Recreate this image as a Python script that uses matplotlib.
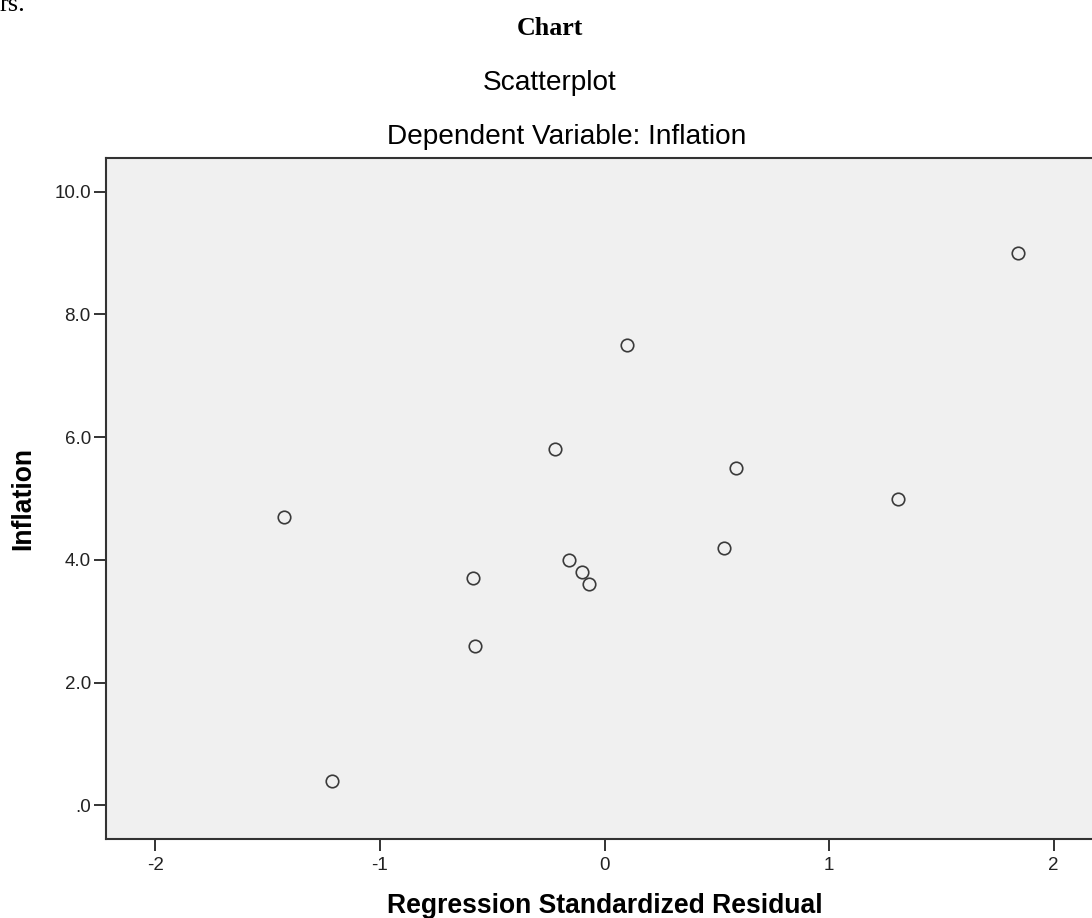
import matplotlib
matplotlib.use("Agg")
import matplotlib.pyplot as plt

# Data
residual = [1.84, 0.10, -0.22, 0.584, 1.308, -1.427, 0.532, -0.159, -0.099, -0.071, -0.584, -0.577, -1.212]
inflation = [9.0, 7.5, 5.8, 5.5, 5.0, 4.7, 4.2, 4.0, 3.8, 3.6, 3.7, 2.6, 0.4]
xticks = [-2, -1, 0, 1, 2]
xtick_labels = ["-2", "-1", "0", "1", "2"]
yticks = [0, 2, 4, 6, 8, 10]
ytick_labels = [".0", "2.0", "4.0", "6.0", "8.0", "10.0"]

W, H = 1092, 918
fig = plt.figure(figsize=(W / 100, H / 100), dpi=100)
fig.patch.set_facecolor("white")

sans = ["Liberation Sans", "DejaVu Sans"]
serif = ["Liberation Serif", "DejaVu Serif"]

def px(x, y):
    return x / W, 1 - y / H

# axes: left 106, top 158, bottom 839, right beyond the image edge (1103)
left, top, bottom, right = 106, 158, 839, 1103
ax = fig.add_axes([left / W, 1 - bottom / H, (right - left) / W, (bottom - top) / H])
ax.set_facecolor("#f0f0f0")

ax.plot(residual, inflation, linestyle="none", marker="o", markersize=9,
        markerfacecolor="none", markeredgecolor="#3a3a3a", markeredgewidth=1.2)

ax.set_xlim(-2.22, 2.22)
ax.set_ylim(-0.55, 10.55)
ax.set_xticks(xticks)
ax.set_xticklabels(xtick_labels, family=sans, fontsize=13.5, color="#222222")
ax.set_yticks(yticks)
ax.set_yticklabels(ytick_labels, family=sans, fontsize=13.5, color="#222222")
ax.tick_params(axis="both", direction="out", length=8.5, width=1.4, color="#333333")
ax.tick_params(axis="y", pad=2.4)
ax.tick_params(axis="x", pad=4.5)
for s in ax.spines.values():
    s.set_color("#333333")
    s.set_linewidth(1.5)

# Texts
fig.text(*px(0, 11), "rs.", family=serif, fontsize=19, ha="left", va="baseline")
fig.text(*px(549.5, 35), "Chart", family=serif, fontsize=18.7, fontweight="bold",
         ha="center", va="baseline")
fig.text(*px(550, 90), "Scatterplot", family=sans, fontsize=20.2,
         ha="center", va="baseline")
fig.text(*px(566.5, 144), "Dependent Variable: Inflation", family=sans, fontsize=20.2,
         ha="center", va="baseline")
fig.text(*px(604.5, 913), "Regression Standardized Residual", family=sans, fontsize=19.1,
         fontweight="bold", ha="center", va="baseline")
fig.text(*px(23, 499), "Inflation", family=sans, fontsize=19.1, fontweight="bold",
         rotation=90, ha="center", va="center")

fig.savefig("out.png", dpi=100)
